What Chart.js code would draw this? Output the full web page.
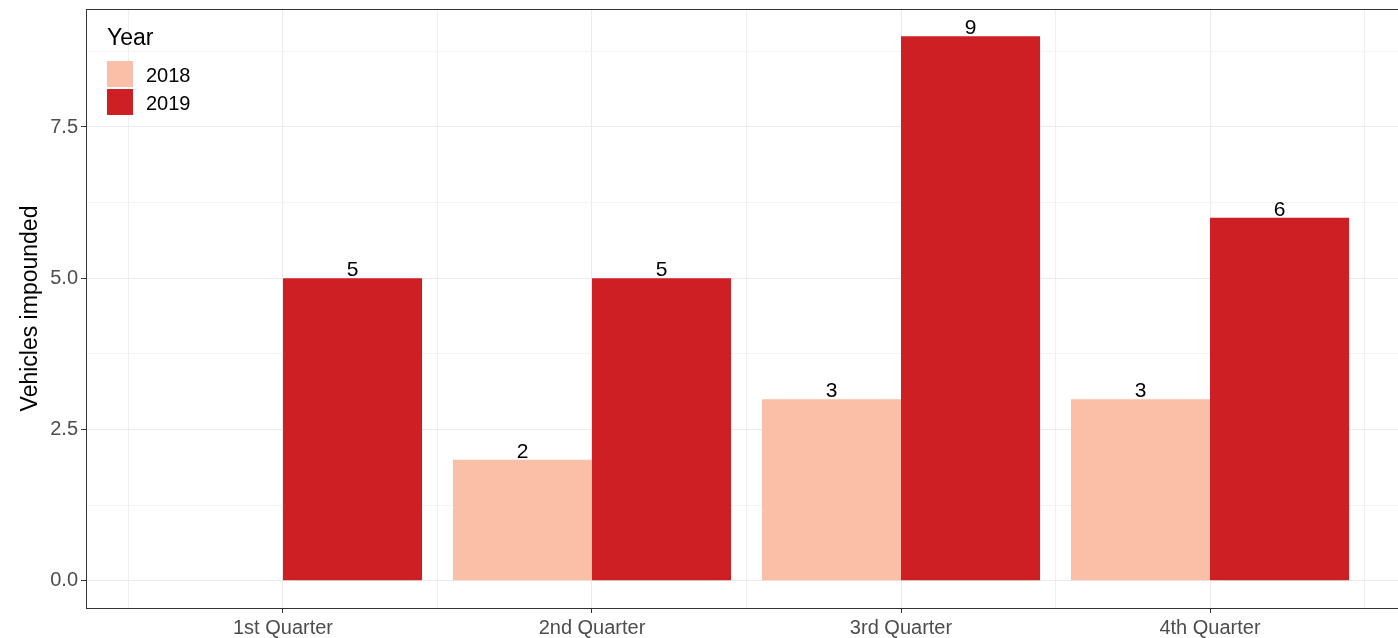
<!DOCTYPE html>
<html><head><meta charset="utf-8">
<script src="https://cdn.jsdelivr.net/npm/chart.js@4"></script>
<style>html,body{margin:0;padding:0;background:#fff;overflow:hidden}
#wrap{width:1420px;height:638px;position:relative}</style></head>
<body><div id="wrap"><canvas id="c"></canvas></div>
<script>
const categories = ['1st Quarter', '2nd Quarter', '3rd Quarter', '4th Quarter'];
const years = ['2018', '2019'];
const values2018 = [null, 2, 3, 3];
const values2019 = [5, 5, 9, 6];
const yMajorTicks = [0, 2.5, 5, 7.5];
const yMinorTicks = [1.25, 3.75, 6.25, 8.75];
const legendTitle = 'Year';
const yTitle = 'Vehicles impounded';

const FONT = '"Liberation Sans", Arial, Helvetica, sans-serif';
Chart.defaults.font.family = FONT;
const seriesColors = ['#F9C0A7', '#CE1F25'];

const toPoints = arr => arr.map((v, i) => ({ x: i + 1, y: v }));

const panelPlugin = {
  id: 'panel',
  afterDatasetsDraw(chart) {
    const ctx = chart.ctx;
    ctx.save();
    ctx.font = '21px ' + FONT;
    ctx.fillStyle = '#000';
    ctx.textAlign = 'center';
    ctx.textBaseline = 'alphabetic';
    chart.data.datasets.forEach((ds, di) => {
      const meta = chart.getDatasetMeta(di);
      meta.data.forEach((el, i) => {
        const v = ds.data[i].y;
        if (v === null || v === undefined) return;
        ctx.fillText(String(v), el.x, el.y - 2);
      });
    });
    ctx.restore();
  },
  afterDraw(chart) {
    const ctx = chart.ctx;
    const a = chart.chartArea;
    ctx.save();
    ctx.strokeStyle = '#333333';
    ctx.lineWidth = 1;
    ctx.strokeRect(a.left + 0.5, a.top + 0.5, a.right - a.left, a.bottom - a.top);
    ctx.fillStyle = '#000';
    ctx.textAlign = 'left';
    ctx.textBaseline = 'alphabetic';
    ctx.font = '23px ' + FONT;
    ctx.fillText(legendTitle, 107, 45);
    ctx.font = '20px ' + FONT;
    chart.data.datasets.forEach((ds, i) => {
      ctx.fillStyle = ds.backgroundColor;
      ctx.fillRect(107, 61 + 28 * i, 26, 26);
      ctx.fillStyle = '#000';
      ctx.fillText(ds.label, 146, 82 + 28 * i);
    });
    ctx.restore();
  }
};

new Chart(document.getElementById('c'), {
  type: 'bar',
  data: {
    datasets: [
      { label: years[0], data: toPoints(values2018), backgroundColor: seriesColors[0], borderWidth: 0, categoryPercentage: 0.9, barPercentage: 1.0 },
      { label: years[1], data: toPoints(values2019), backgroundColor: seriesColors[1], borderWidth: 0, categoryPercentage: 0.9, barPercentage: 1.0 }
    ]
  },
  options: {
    responsive: true,
    maintainAspectRatio: false,
    animation: false,
    layout: { padding: { top: 9, right: 13, bottom: 0, left: 0 } },
    plugins: { legend: { display: false }, tooltip: { enabled: false }, title: { display: false } },
    scales: {
      x: {
        type: 'linear', position: 'bottom', offset: false,
        min: 0.3625, max: 4.6375,
        afterBuildTicks: s => { s.ticks = categories.map((c, i) => ({ value: i + 1 })); },
        afterFit: s => { s.height = 30; s.paddingLeft = 0; s.paddingRight = 0; },
        ticks: { callback: v => categories[v - 1], autoSkip: false, maxRotation: 0, color: '#4D4D4D', font: { size: 20 }, padding: 3 },
        grid: { offset: false, color: '#EBEBEB', lineWidth: 1, tickColor: '#333333', tickLength: 5, drawTicks: true },
        border: { display: false }
      },
      x2: {
        type: 'linear', position: 'top', offset: false,
        min: 0.3625, max: 4.6375,
        afterBuildTicks: s => { s.ticks = [0.5, 1.5, 2.5, 3.5, 4.5].map(v => ({ value: v })); },
        afterFit: s => { s.height = 0; s.paddingLeft = 0; s.paddingRight = 0; },
        ticks: { display: false },
        grid: { offset: false, color: '#EFEFEF', lineWidth: 1, drawTicks: false },
        border: { display: false }
      },
      y: {
        type: 'linear',
        min: -0.45, max: 9.45,
        afterBuildTicks: s => { s.ticks = yMajorTicks.concat(yMinorTicks).sort((a, b) => a - b).map(v => ({ value: v })); },
        afterFit: s => { s.width = 86; s.paddingTop = 0; s.paddingBottom = 0; },
        ticks: {
          callback: v => yMajorTicks.includes(v) ? v.toFixed(1) : '',
          color: '#4D4D4D', font: { size: 20 }, padding: 3, autoSkip: false
        },
        grid: {
          color: c => yMajorTicks.includes(c.tick.value) ? '#EBEBEB' : '#F3F3F3',
          lineWidth: 1,
          tickColor: c => yMajorTicks.includes(c.tick.value) ? '#333333' : 'rgba(0,0,0,0)',
          tickLength: 5
        },
        border: { display: false },
        title: { display: true, text: yTitle, color: '#000', font: { size: 23 }, padding: { top: 17, bottom: 0 } }
      }
    }
  },
  plugins: [panelPlugin]
});
</script></body></html>
